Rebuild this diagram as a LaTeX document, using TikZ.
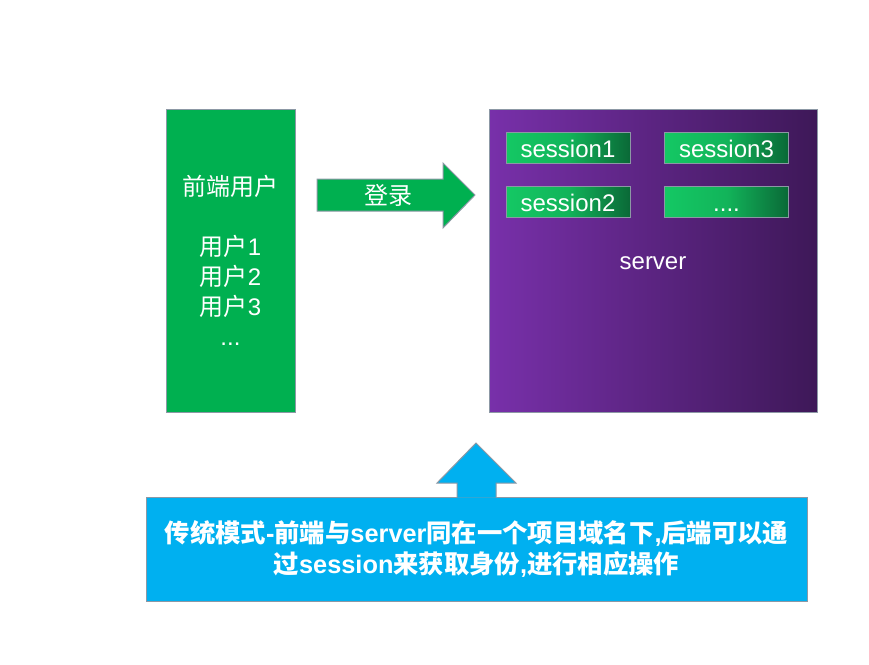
\documentclass[tikz,border=0pt]{standalone}
\usepackage{fontspec}
\setmainfont{Liberation Sans}
\newfontfamily\cjk{Noto Sans CJK SC}
\newcommand{\C}[1]{{\cjk #1}}
\newcommand{\pxu}{0.75pt}
\definecolor{bordergray}{RGB}{140,152,165}
\definecolor{userfill}{RGB}{0,176,80}
\definecolor{notefill}{RGB}{0,176,240}
\definecolor{purpL}{RGB}{120,48,170}
\definecolor{purpM}{RGB}{106,44,152}
\definecolor{purpR}{RGB}{62,24,88}
\definecolor{sessL}{RGB}{20,200,100}
\definecolor{sessM}{RGB}{18,180,90}
\definecolor{sessR}{RGB}{10,105,55}
\tikzset{
  box/.style={draw=bordergray, line width=0.75pt, inner sep=0pt, text=white},
  sessbox/.style={box, minimum width=124*\pxu, minimum height=31*\pxu,
     left color=sessL, right color=sessR, middle color=sessM,
     font=\fontsize{18}{20}\selectfont, text height=14.7pt, text depth=0pt},
  bigtext/.style={font=\fontsize{18}{22.5}\selectfont, text=white, align=center},
}
\begin{document}
\begin{tikzpicture}[x=0.75pt, y=-0.75pt]
\useasboundingbox (0,0) rectangle (869,665);
% front-end users box
\node[box, fill=userfill, minimum width=129*\pxu, minimum height=303*\pxu, bigtext]
  (users) at (230.5,260.5) {\C{前端用户}\\[22.5pt]\C{用户}1\\\C{用户}2\\\C{用户}3\\...};
% login arrow
\draw[draw=bordergray, line width=0.75pt, fill=userfill]
  (317,179) -- (443,179) -- (443,163) -- (475,195) -- (443,228) -- (443,211) -- (317,211) -- cycle;
\node[bigtext] (login) at (388,195) {\C{登录}};
% server box
\node[box, minimum width=328*\pxu, minimum height=303*\pxu,
  left color=purpL, middle color=purpM, right color=purpR,
  font=\fontsize{18}{20}\selectfont, text height=14.2pt, text depth=0pt] (server) at (653,260.5) {server};
% sessions
\node[sessbox] (s1) at (568,147.5) {session1};
\node[sessbox] (s3) at (726.5,147.5) {session3};
\node[sessbox] (s2) at (568,202) {session2};
\node[sessbox] (s4) at (726.5,202) {....};
% note box
\node[box, fill=notefill, minimum width=661*\pxu, minimum height=104*\pxu,
  font=\fontsize{19}{23.25}\selectfont\bfseries, align=center]
  (note) at (476.5,549)
  {\C{传统模式}-\C{前端与}server\C{同在一个项目域名下},\C{后端可以通}\\
   \C{过}session\C{来获取身份},\C{进行相应操作}};
% up arrow
\draw[draw=bordergray, line width=0.75pt, fill=notefill]
  (457,497.5) -- (457,483) -- (437,483) -- (476,443) -- (516,483) -- (496,483) -- (496,497.5);
\end{tikzpicture}
\end{document}
